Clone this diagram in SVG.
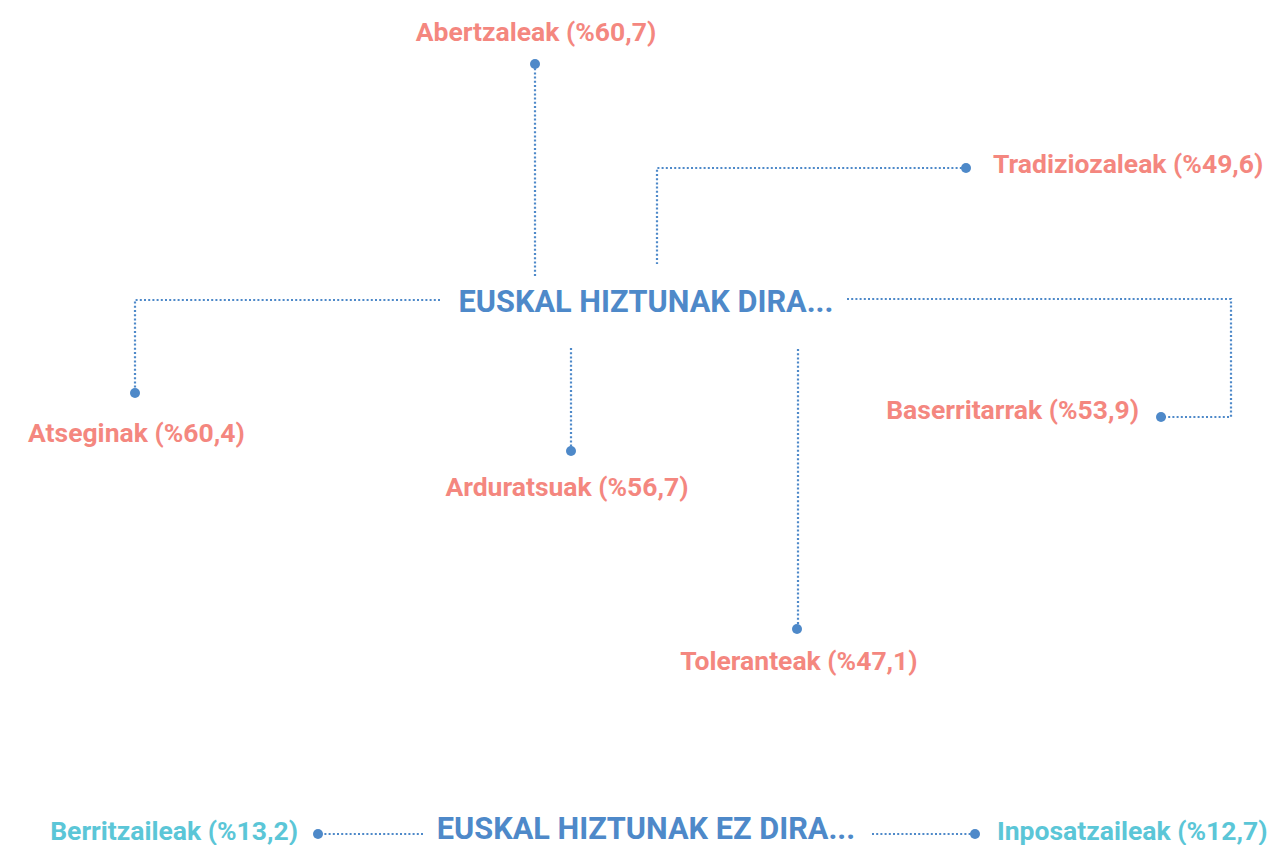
<svg xmlns="http://www.w3.org/2000/svg" width="1271" height="845" viewBox="0 0 1271 845">
<style>
text{font-family:Roboto,"Liberation Sans",sans-serif;font-weight:700;font-size:26.5px}
.p{fill:#F4877F}
.c{fill:#5BC6D7}
.h{fill:#4E89C9;font-size:30.7px}
.ln{fill:none;stroke:#4E89C9;stroke-width:2.2;stroke-dasharray:2 2.2}
.d{fill:#4E89C9}
</style>
<rect width="1271" height="845" fill="#fff"/>
<g id="connectors">
<path class="ln" d="M535 64V276"/>
<path class="ln" d="M966 168H657V264"/>
<path class="ln" d="M440 300H135V393"/>
<path class="ln" d="M571 348V451"/>
<path class="ln" d="M847 299H1231V417H1161"/>
<path class="ln" d="M798 349V629"/>
<path class="ln" d="M423 834H318"/>
<path class="ln" d="M872 834H975"/>
<circle class="d" cx="535" cy="64" r="5"/>
<circle class="d" cx="966" cy="168" r="5"/>
<circle class="d" cx="135" cy="393" r="5"/>
<circle class="d" cx="571" cy="451" r="5"/>
<circle class="d" cx="1161" cy="417" r="5"/>
<circle class="d" cx="797" cy="629" r="5"/>
<circle class="d" cx="318" cy="834" r="5"/>
<circle class="d" cx="975" cy="834" r="5"/>
</g>
<g id="center-dira"><text class="h" x="646" y="312" text-anchor="middle">EUSKAL HIZTUNAK DIRA...</text></g>
<g id="center-ez-dira"><text class="h" x="646" y="839" text-anchor="middle">EUSKAL HIZTUNAK EZ DIRA...</text></g>
<g id="abertzaleak"><text class="p" x="536" y="41" text-anchor="middle">Abertzaleak (%60,7)</text></g>
<g id="tradiziozaleak"><text class="p" x="993" y="173">Tradiziozaleak (%49,6)</text></g>
<g id="atseginak"><text class="p" x="28" y="442">Atseginak (%60,4)</text></g>
<g id="arduratsuak"><text class="p" x="567" y="496" text-anchor="middle">Arduratsuak (%56,7)</text></g>
<g id="baserritarrak"><text class="p" x="1139" y="419" text-anchor="end">Baserritarrak (%53,9)</text></g>
<g id="toleranteak"><text class="p" x="799" y="670" text-anchor="middle">Toleranteak (%47,1)</text></g>
<g id="berritzaileak"><text class="c" x="298" y="840" text-anchor="end">Berritzaileak (%13,2)</text></g>
<g id="inposatzaileak"><text class="c" x="997" y="840">Inposatzaileak (%12,7)</text></g>
</svg>
